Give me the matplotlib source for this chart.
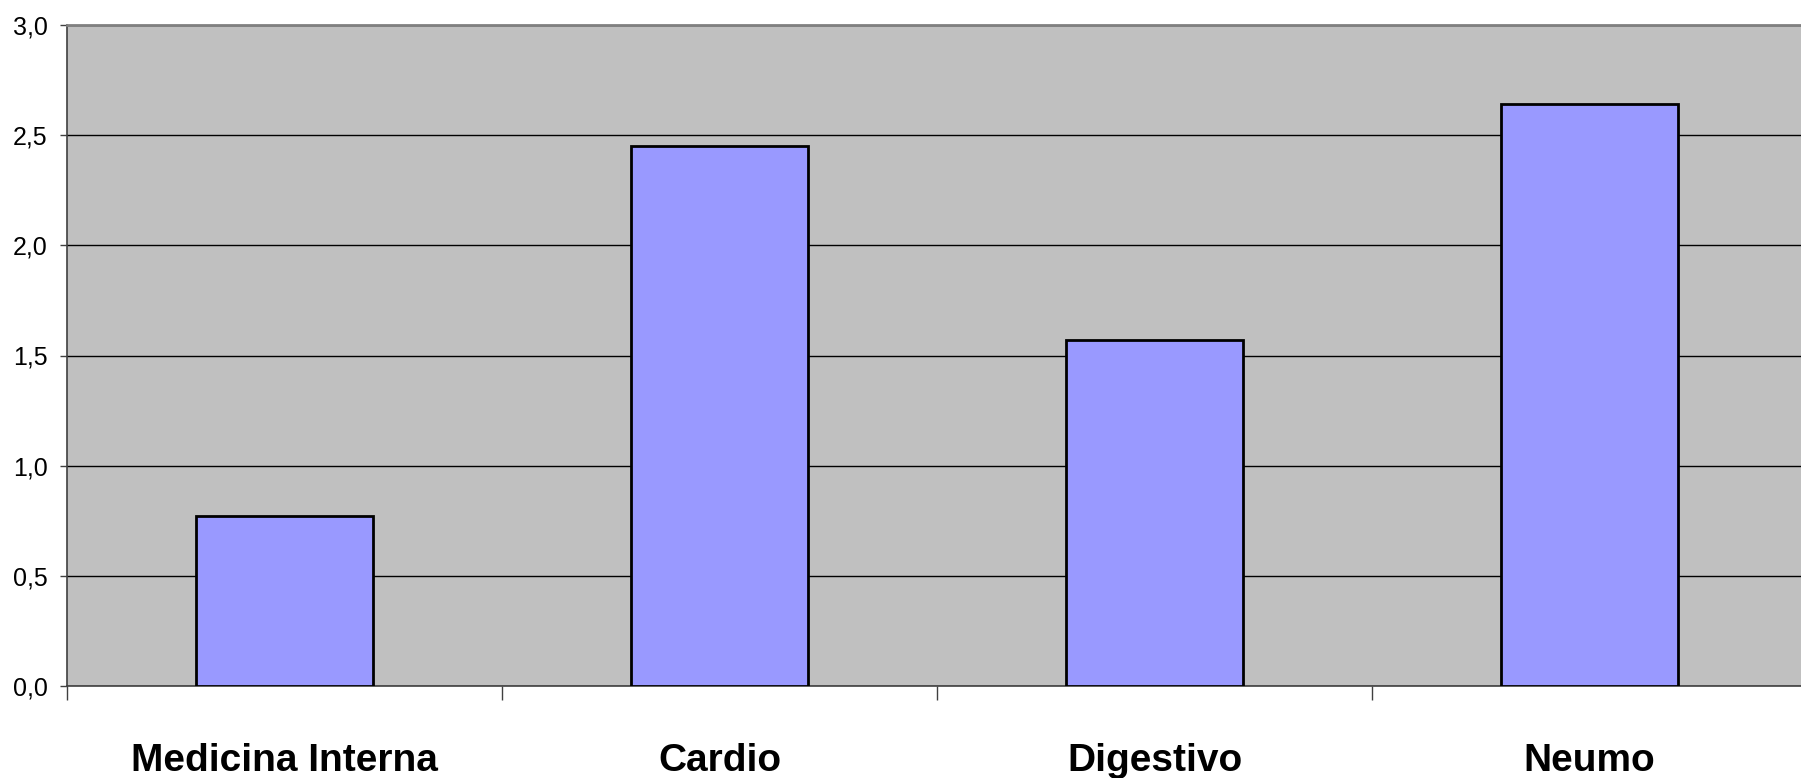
import numpy as np
import matplotlib
import matplotlib.pyplot as plt

matplotlib.use('AGG')

categories = ["Medicina Interna", "Cardio", "Digestivo", "Neumo"]
values = [0.77, 2.45, 1.57, 2.64]
y_ticks = [0.0, 0.5, 1.0, 1.5, 2.0, 2.5, 3.0]
y_labels = ["0,0", "0,5", "1,0", "1,5", "2,0", "2,5", "3,0"]

plt.rcParams['font.family'] = ['Liberation Sans', 'DejaVu Sans']

fig = plt.figure(figsize=(18.01, 7.78), dpi=100)
W, H = 1801, 778
left, right, top, bottom = 67, 1807, 25, 686
ax = fig.add_axes([left / W, (H - bottom) / H, (right - left) / W, (bottom - top) / H])
ax.set_facecolor('#c0c0c0')

x = np.arange(len(categories))
ax.yaxis.grid(True, color='black', linewidth=1.0)
ax.set_axisbelow(True)
ax.bar(x, values, width=0.405, color='#9999ff', edgecolor='black', linewidth=2.0, zorder=3)

ax.set_xlim(-0.5, len(categories) - 0.5)
ax.set_ylim(0, 3.0)
ax.set_yticks(y_ticks)
ax.set_yticklabels(y_labels, fontsize=18)
ax.tick_params(axis='y', length=5, width=1, color='#404040', pad=9)

# boundary ticks without labels, category names on minor ticks
ax.set_xticks(np.arange(len(categories)) - 0.5)
ax.set_xticklabels([])
ax.tick_params(axis='x', which='major', length=10, width=1, color='#404040')
ax.set_xticks(x, minor=True)
ax.set_xticklabels(categories, minor=True, fontsize=28, fontweight='bold')
ax.tick_params(axis='x', which='minor', length=0, pad=41)

ax.spines['right'].set_visible(False)
ax.spines['top'].set_color('#808080')
ax.spines['top'].set_linewidth(2)
ax.spines['left'].set_color('#404040')
ax.spines['bottom'].set_color('#404040')
ax.spines['left'].set_linewidth(1.2)
ax.spines['bottom'].set_linewidth(1.2)

fig.savefig('out.png', dpi=100)
